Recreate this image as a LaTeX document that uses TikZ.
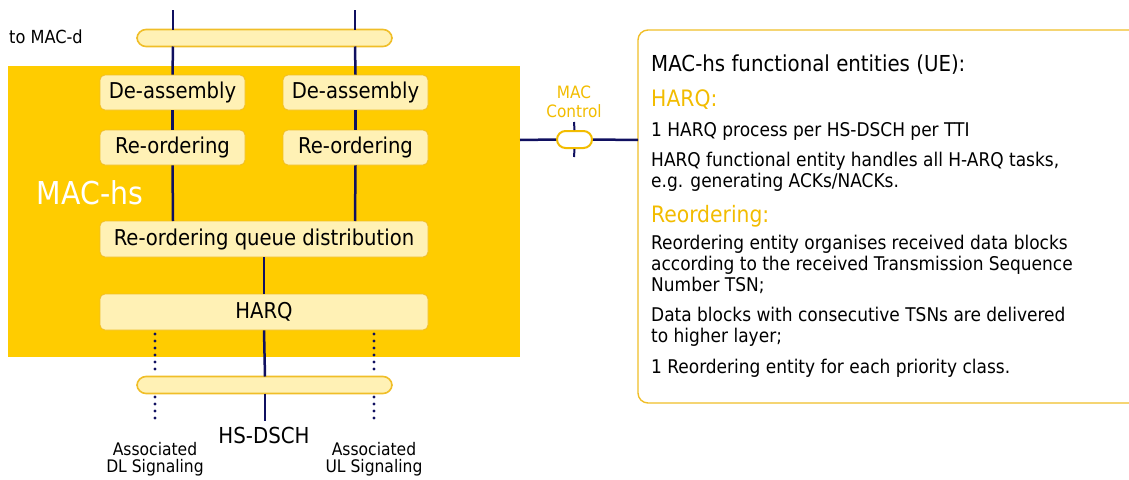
\documentclass[tikz,border=0pt]{standalone}
\usepackage{fontspec}
\setmainfont{DejaVu Sans Condensed}
\definecolor{macyel}{HTML}{FFCC00}
\definecolor{boxfill}{HTML}{FFF1B5}
\definecolor{boxedge}{HTML}{F0BE28}
\definecolor{navy}{HTML}{101060}
\definecolor{txtyel}{HTML}{F2BC00}
\begin{document}
\begin{tikzpicture}[x=1pt,y=-1pt,
  fnt/.style 2 args={font=\fontsize{#1}{#2}\selectfont},
  block/.style={draw=boxedge,line width=0.8pt,fill=boxfill,rounded corners=5pt,inner sep=0pt,minimum height=35pt,fnt={21.8}{24}},
  bus/.style={draw=boxedge,line width=1.6pt,fill=boxfill,rounded corners=9pt,inner sep=0pt,minimum height=17pt},
  link/.style={draw=navy,line width=2.5pt},
  dotlink/.style={draw=navy,line width=3.2pt,line cap=round,dash pattern=on 0pt off 7pt},
  body/.style={fnt={18.9}{20.7},anchor=base west,align=left,inner sep=0pt,text=black},
  yhead/.style={fnt={22.6}{24},anchor=base west,inner sep=0pt,text=txtyel}
]
\useasboundingbox (0,0) rectangle (1129,479);
% main area
\fill[macyel] (8,66) rectangle (520,357);
\node[fnt={31.5}{34},text=white,anchor=center,inner sep=0pt] (machs) at (90,193) {MAC-hs};
% top bus
\coordinate (t1) at (173,10);
\coordinate (t2) at (355,10);
\node[bus,minimum width=255pt] (topbus) at (264.5,38) {};
\node[fnt={18}{20},anchor=west,inner sep=0pt] (tomacd) at (9,37) {to MAC-d};
% blocks
\node[block,minimum width=145pt] (da1) at (172.5,92.5) {De-assembly};
\node[block,minimum width=145pt] (da2) at (355.5,92.5) {De-assembly};
\node[block,minimum width=145pt] (ro1) at (172.5,147.5) {Re-ordering};
\node[block,minimum width=145pt] (ro2) at (355.5,147.5) {Re-ordering};
\node[block,minimum width=328pt,minimum height=36pt] (rqd) at (264,239) {Re-ordering queue distribution};
\node[block,minimum width=328pt,minimum height=36pt] (harq) at (264,312) {HARQ};
% bottom bus
\node[bus,minimum width=255pt] (botbus) at (264.5,385) {};
\coordinate (b0) at (265,421);
\coordinate (bdl) at (155,425);
\coordinate (bul) at (374,425);
% vertical links
\draw[link] (t1) -- (173,29.5);
\draw[link] (173,46.5) -- (da1.north);
\draw[link] (t2) -- (355,29.5);
\draw[link] (355,46.5) -- (da2.north);
\draw[link] (da1) -- (ro1);
\draw[link] (da2) -- (ro2);
\draw[link] (ro1.south) -- (173,221);
\draw[link] (ro2.south) -- (355,221);
\draw[link] (rqd) -- (harq);
\draw[link] (harq.south) -- (265,376.5);
\draw[link] (265,393.5) -- (b0);
\draw[dotlink] (155,334) -- (155,376);
\draw[dotlink] (155,397) -- (bdl);
\draw[dotlink] (374,334) -- (374,376);
\draw[dotlink] (374,397) -- (bul);
% labels below
\node[fnt={22}{24},anchor=center,inner sep=0pt] (hsdsch) at (264,435) {HS-DSCH};
\node[fnt={17.3}{17},align=center,anchor=base,inner sep=0pt] (dl) at (155,472) {Associated\\DL Signaling};
\node[fnt={17.3}{17},align=center,anchor=base,inner sep=0pt] (ul) at (374,472) {Associated\\UL Signaling};
% MAC control
\node[fnt={17}{19},text=txtyel,align=center,inner sep=0pt,anchor=base] (macctl) at (574,117) {MAC\\Control};
\node[draw=txtyel,line width=2pt,fill=white,rounded corners=8.5pt,minimum width=35pt,minimum height=17pt,inner sep=0pt] (ctl) at (574.5,139.5) {};
\coordinate (ctlu) at (574,122);
\coordinate (ctld) at (574,157);
\draw[link,line width=2pt] (ctlu) -- (ctl.north);
\draw[link,line width=2pt] (ctl.south) -- (ctld);
% right info box
\draw[draw=boxedge,line width=1.4pt,rounded corners=10pt] (1140,30) -- (638,30) -- (638,403) -- (1140,403);
\coordinate (rb) at (638,140);
\draw[link] (520,140) -- (ctl.west);
\draw[link] (ctl.east) -- (rb);
\node[fnt={22}{24},anchor=base west,inner sep=0pt] (h0) at (651,71) {MAC-hs functional entities (UE):};
\node[yhead] (h1) at (651,106) {HARQ:};
\node[body] (p1) at (651,136) {1 HARQ process per HS-DSCH per TTI};
\node[body] (p2) at (651,187) {HARQ functional entity handles all H-ARQ tasks,\\e.g. generating ACKs/NACKs.};
\node[yhead] (h2) at (651,222) {Reordering:};
\node[body] (p3) at (651,291) {Reordering entity organises received data blocks\\according to the received Transmission Sequence\\Number TSN;};
\node[body] (p4) at (651,342.5) {Data blocks with consecutive TSNs are delivered\\to higher layer;};
\node[body] (p5) at (651,373) {1 Reordering entity for each priority class.};
\end{tikzpicture}
\end{document}
